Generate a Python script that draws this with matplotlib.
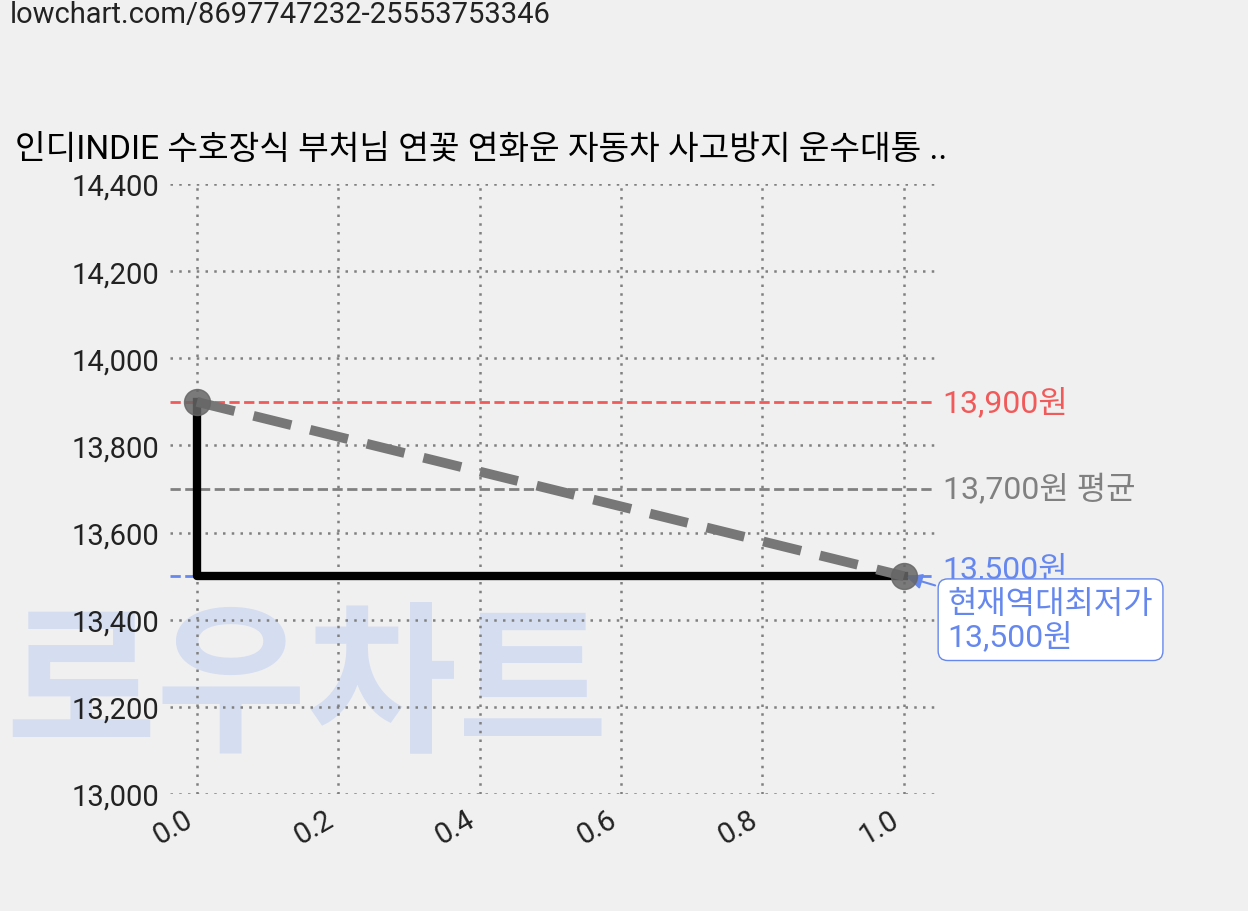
import matplotlib
matplotlib.use("Agg")
import matplotlib.pyplot as plt

plt.rcParams["font.family"] = ["Roboto", "Noto Sans CJK KR", "DejaVu Sans"]

x_vals = [0.0, 1.0]
prices = [13900, 13500]
step_x = [0.0, 0.0, 1.0]
step_y = [13900, 13500, 13500]
max_price = 13900
avg_price = 13700
min_price = 13500
title = "인디INDIE 수호장식 부처님 연꽃 연화운 자동차 사고방지 운수대통 .."
url = "lowchart.com/8697747232-25553753346"

BG = "#f0f0f0"
fig = plt.figure(figsize=(12.48, 9.12), dpi=100, facecolor=BG)
ax = fig.add_axes([170 / 1248, 1 - 795 / 912, 765 / 1248, 610 / 912])
ax.patch.set_visible(False)
ax.set_xlim(-0.038, 1.044)
ax.set_ylim(13000, 14400)
for s in ax.spines.values():
    s.set_visible(False)

wm = fig.text(5 / 1248, 1 - 690 / 912, "로우차트", fontsize=118, fontweight="bold",
              color="#d5ddf0", ha="left", va="center", family="Noto Sans CJK KR")
wm.set_zorder(-1)

ax.grid(True, color="#808080", linestyle=(0, (1, 2.5)), linewidth=1.8)
ax.set_axisbelow(True)
ax.tick_params(length=0, labelsize=21, colors="#222222", pad=8)
ax.set_yticks(range(13000, 14401, 200))
ax.set_yticklabels([f"{v:,}" for v in range(13000, 14401, 200)])
ax.set_xticks([0, 0.2, 0.4, 0.6, 0.8, 1.0])
ax.set_xticklabels(["0.0", "0.2", "0.4", "0.6", "0.8", "1.0"], rotation=30, ha="right")

ax.axhline(max_price, color="#f05a5a", linestyle="--", linewidth=2)
ax.axhline(avg_price, color="#808080", linestyle="--", linewidth=2)
ax.axhline(min_price, color="#6688ee", linestyle="--", linewidth=2)

ax.plot(step_x, step_y, color="black", linewidth=6, zorder=3)
ax.plot(x_vals, prices, color="#777777", linestyle=(0, (4, 2)), linewidth=7, zorder=4)
ax.scatter(x_vals, prices, s=350, color="#666666", alpha=0.85, zorder=5)

ax.text(1.055, max_price, f"{max_price:,}원", color="#f05a5a", fontsize=23, va="center",
        clip_on=False)
ax.text(1.055, avg_price, f"{avg_price:,}원 평균", color="#808080", fontsize=23, va="center",
        clip_on=False)
ax.text(1.055, min_price + 20, f"{min_price:,}원", color="#6688ee", fontsize=23, va="center",
        clip_on=False)
ax.annotate(f"현재역대최저가\n{min_price:,}원", xy=(1.0, min_price), xytext=(1.062, 13400),
            color="#6688ee", fontsize=23, va="center", ha="left", linespacing=1.1,
            bbox=dict(boxstyle="round,pad=0.3", fc="white", ec="#6688ee"),
            arrowprops=dict(arrowstyle="-|>", color="#6688ee", lw=1.5), annotation_clip=False)

fig.text(15 / 1248, 1 - 150 / 912, title, fontsize=24, ha="left", va="center", color="black")
fig.text(10 / 1248, 1 - 15 / 912, url, fontsize=21, ha="left", va="center", color="#222222")

fig.savefig("out.png", dpi=100, facecolor=BG)
